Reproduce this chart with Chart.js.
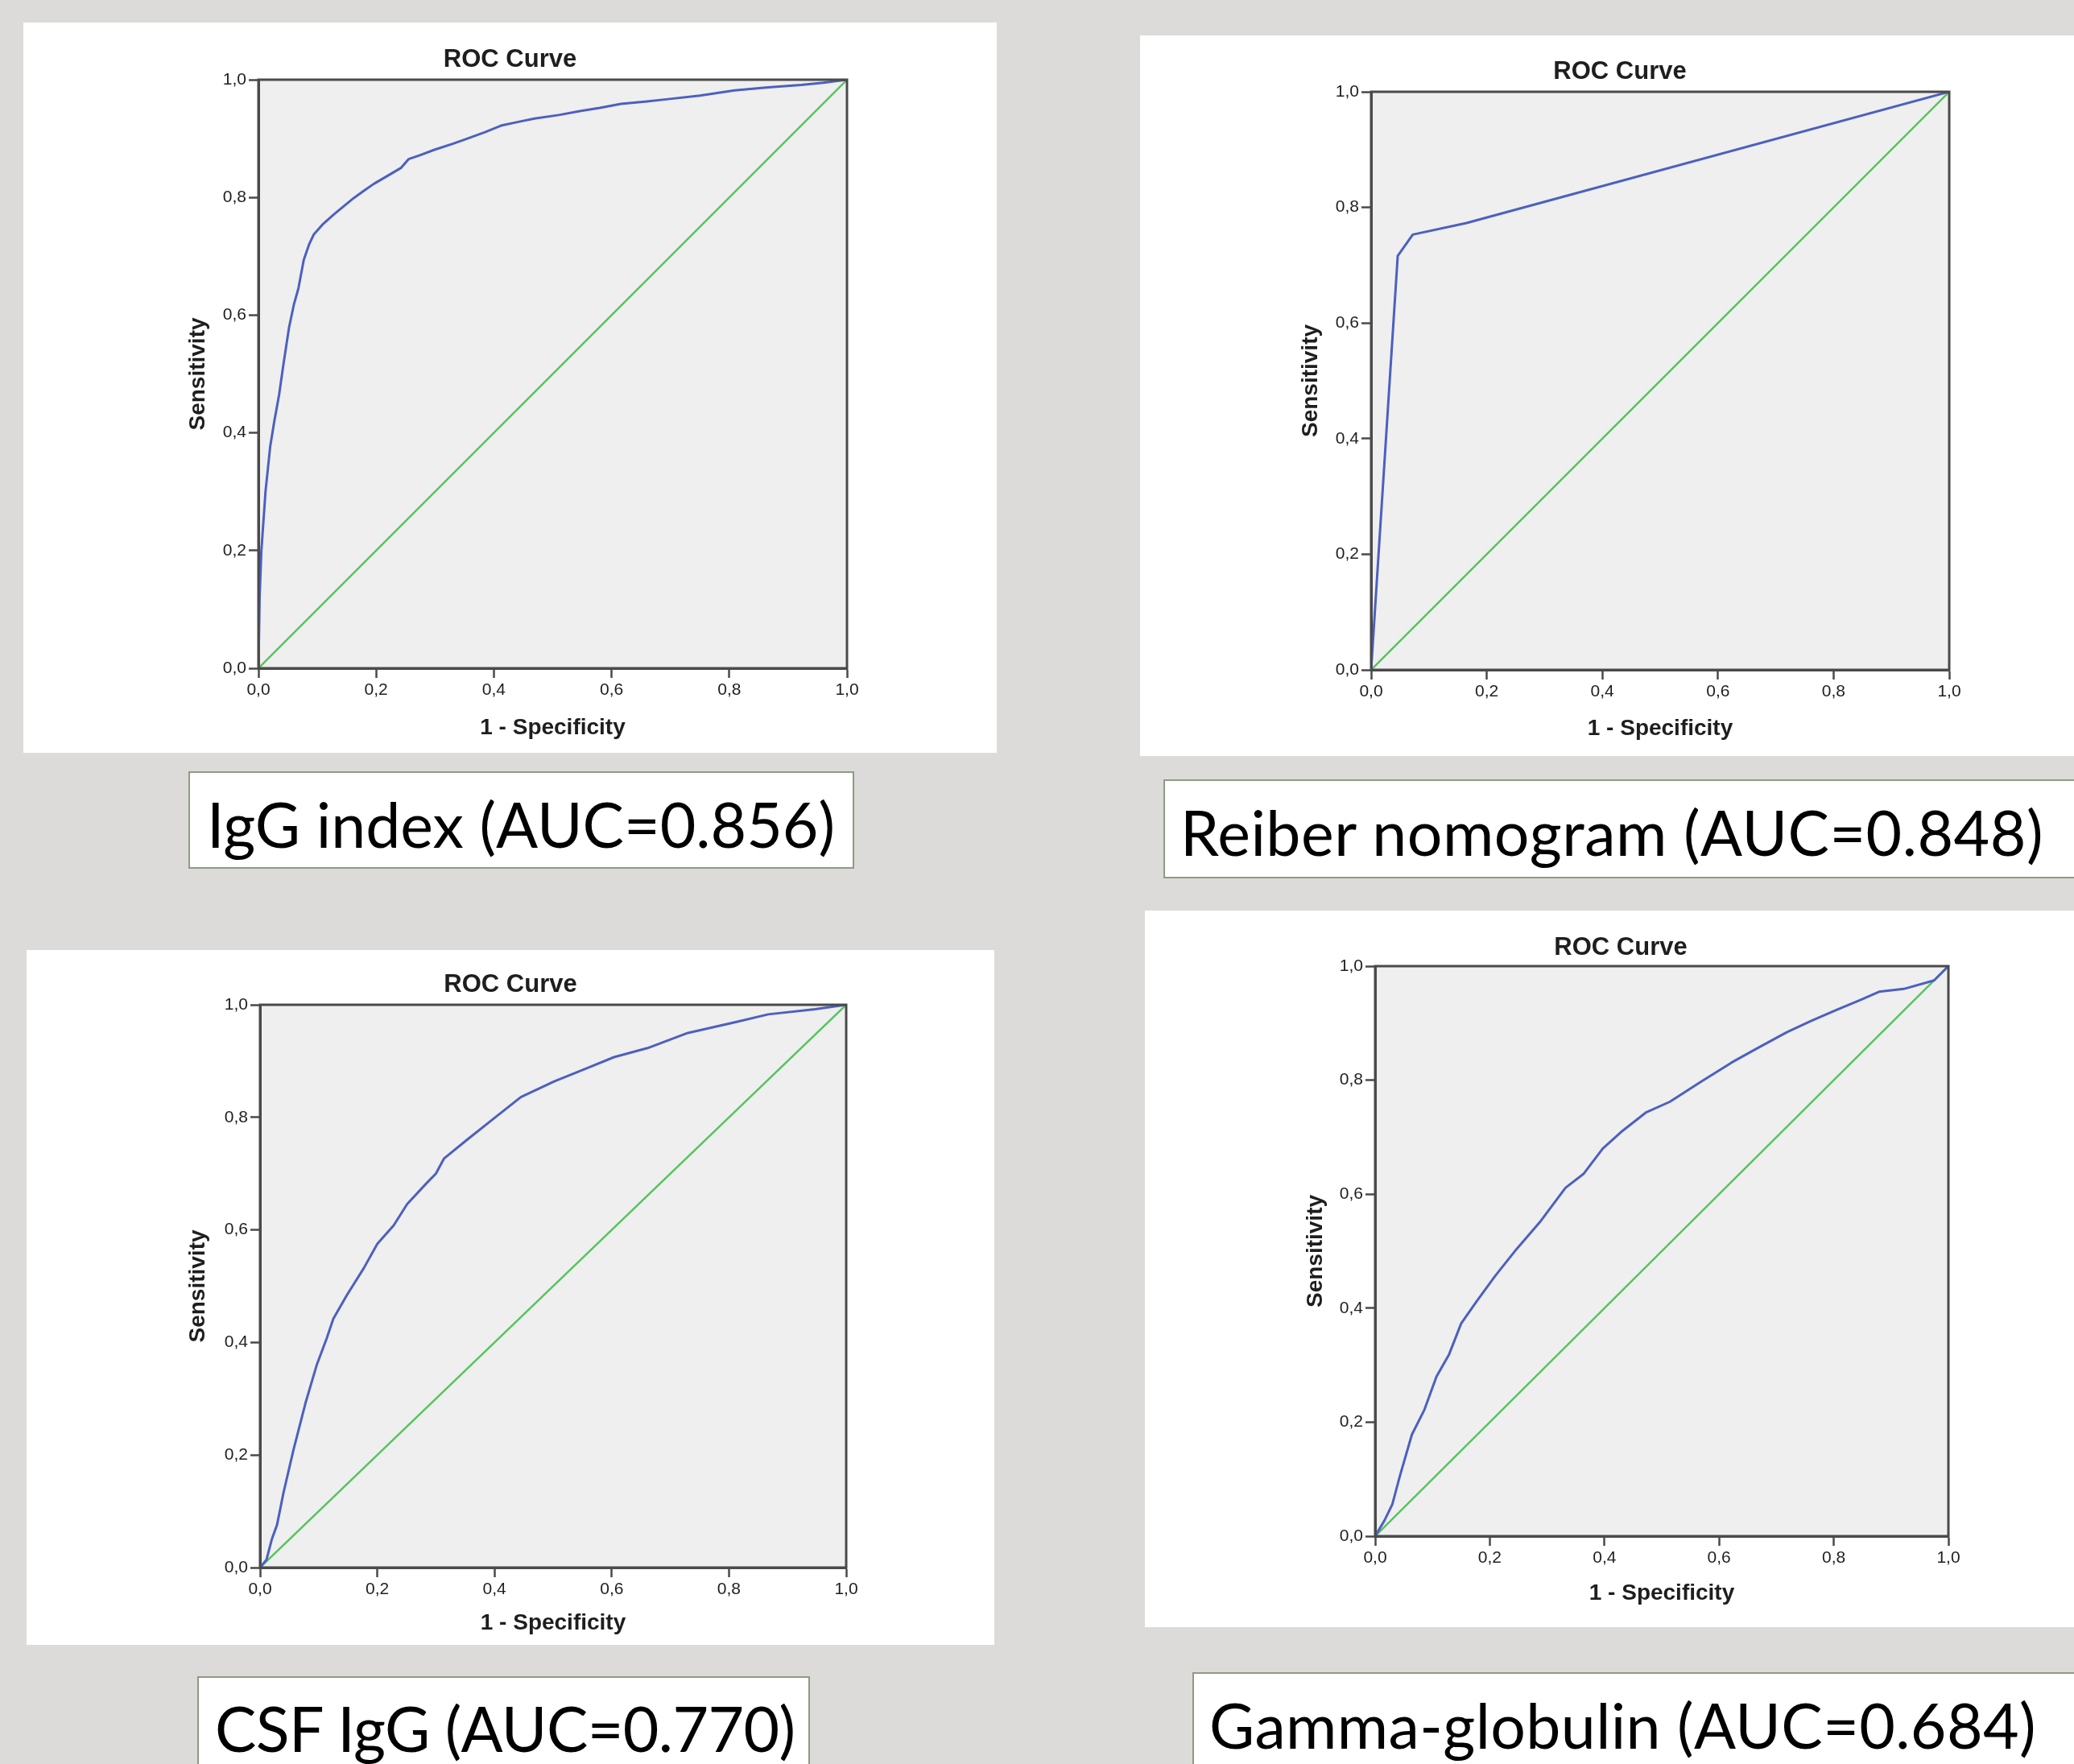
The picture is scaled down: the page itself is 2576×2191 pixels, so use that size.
<!DOCTYPE html>
<html>
<head>
<meta charset="utf-8">
<script src="https://cdn.jsdelivr.net/npm/chart.js@4.4.1/dist/chart.umd.min.js"></script>
<style>
  html, body { margin: 0; padding: 0; }
  body { width: 2576px; height: 2191px; background: #dcdbd9; position: relative; overflow: hidden; }
  .panel { position: absolute; background: #fff; }
  .panel canvas { display: block; }
  .label { position: absolute; background: #fff; border: 2px solid #8d9b7f; box-sizing: border-box; }
  .ltext { position: absolute; font-family: Lato, "Open Sans", sans-serif; font-size: 77px; line-height: 77px; color: #000; white-space: nowrap; }
</style>
</head>
<body>

<div class="label" style="left:234px;top:958px;width:827px;height:121px"></div>
<div class="ltext" style="left:257px;top:985px">IgG index (AUC=0.856)</div>

<div class="label" style="left:1445px;top:968px;width:1200px;height:123px"></div>
<div class="ltext" style="left:1466px;top:995px;letter-spacing:0.5px">Reiber nomogram (AUC=0.848)</div>

<div class="label" style="left:245px;top:2082px;width:761px;height:200px"></div>
<div class="ltext" style="left:267px;top:2108px;letter-spacing:-0.6px">CSF IgG (AUC=0.770)</div>

<div class="label" style="left:1481px;top:2077px;width:1200px;height:200px"></div>
<div class="ltext" style="left:1502px;top:2104px;letter-spacing:0.4px">Gamma-globulin (AUC=0.684)</div>

<script>
// ROC curve points (1 - specificity, sensitivity)
const iggIndexFpr = [0, 0.002, 0.005, 0.012, 0.02, 0.027, 0.035, 0.043, 0.052, 0.06, 0.068, 0.077, 0.086, 0.094, 0.11, 0.128, 0.145, 0.162, 0.18, 0.196, 0.22, 0.242, 0.255, 0.275, 0.299, 0.33, 0.355, 0.385, 0.412, 0.44, 0.469, 0.51, 0.548, 0.58, 0.616, 0.66, 0.696, 0.75, 0.809, 0.866, 0.922, 0.96, 1];
const iggIndexTpr = [0, 0.12, 0.2, 0.3, 0.377, 0.42, 0.464, 0.52, 0.579, 0.617, 0.646, 0.694, 0.72, 0.737, 0.755, 0.771, 0.785, 0.799, 0.812, 0.823, 0.837, 0.85, 0.865, 0.872, 0.881, 0.891, 0.9, 0.911, 0.922, 0.928, 0.934, 0.94, 0.947, 0.952, 0.959, 0.963, 0.967, 0.973, 0.982, 0.987, 0.991, 0.995, 1];

const reiberFpr = [0, 0.046, 0.072, 0.165, 1];
const reiberTpr = [0, 0.716, 0.753, 0.773, 1];

const csfIggFpr = [0, 0.011, 0.02, 0.029, 0.04, 0.057, 0.078, 0.097, 0.114, 0.125, 0.148, 0.177, 0.2, 0.228, 0.251, 0.285, 0.3, 0.314, 0.353, 0.399, 0.445, 0.502, 0.559, 0.604, 0.661, 0.73, 0.81, 0.867, 0.947, 1];
const csfIggTpr = [0, 0.014, 0.05, 0.076, 0.133, 0.209, 0.294, 0.361, 0.408, 0.442, 0.484, 0.532, 0.575, 0.608, 0.646, 0.684, 0.7, 0.727, 0.76, 0.798, 0.836, 0.864, 0.888, 0.907, 0.923, 0.95, 0.969, 0.983, 0.992, 1];

const gammaFpr = [0, 0.016, 0.03, 0.043, 0.064, 0.086, 0.107, 0.129, 0.15, 0.177, 0.209, 0.247, 0.289, 0.332, 0.364, 0.397, 0.429, 0.472, 0.514, 0.568, 0.622, 0.665, 0.718, 0.761, 0.804, 0.847, 0.879, 0.922, 0.975, 1];
const gammaTpr = [0, 0.027, 0.056, 0.105, 0.178, 0.222, 0.28, 0.319, 0.373, 0.412, 0.456, 0.504, 0.553, 0.611, 0.636, 0.68, 0.709, 0.743, 0.762, 0.797, 0.831, 0.855, 0.884, 0.904, 0.923, 0.941, 0.955, 0.96, 0.975, 1];

// reference diagonal
const refX = [0, 1];
const refY = [0, 1];

const tickLabels = ["0,0", "0,2", "0,4", "0,6", "0,8", "1,0"];

const BLUE = "#4c60c0";
const GREEN = "#55c45c";
const AXIS = "#4a4a4a";
const PLOT_BG = "#efefef";
const TEXT = "#1e1e1e";
const FONT = "'Liberation Sans', Arial, sans-serif";

// where each white panel and its plot box sit on the page
const layouts = [
    { left: 29,   top: 28,   w: 1209, h: 907, pl: 292, pt: 71, pr: 186, pb: 105, titleY: 46, yTitleX: 217, xTitleY: 876, fpr: iggIndexFpr, tpr: iggIndexTpr },
    { left: 1416, top: 44,   w: 1192, h: 895, pl: 287, pt: 70, pr: 187, pb: 107, titleY: 45, yTitleX: 212, xTitleY: 861, fpr: reiberFpr,   tpr: reiberTpr },
    { left: 33,   top: 1180, w: 1202, h: 863, pl: 290, pt: 68, pr: 184, pb: 96,  titleY: 43, yTitleX: 213, xTitleY: 836, fpr: csfIggFpr,   tpr: csfIggTpr },
    { left: 1422, top: 1131, w: 1182, h: 890, pl: 286, pt: 69, pr: 184, pb: 113, titleY: 46, yTitleX: 212, xTitleY: 848, fpr: gammaFpr,    tpr: gammaTpr }
];

// grey plot background and the closed frame round the plot
const plotFrame = {
    id: 'plotFrame',
    beforeDraw(chart) {
        const { ctx, chartArea: { left, top, width, height } } = chart;
        ctx.save();
        ctx.fillStyle = PLOT_BG;
        ctx.fillRect(left, top, width, height);
        ctx.restore();
    },
    afterDatasetsDraw(chart) {
        const { ctx, chartArea: { left, top, width, height } } = chart;
        ctx.save();
        ctx.strokeStyle = AXIS;
        ctx.lineWidth = 3;
        ctx.strokeRect(left, top, width, height);
        ctx.restore();
    }
};

function toPoints(xs, ys) {
    return xs.map((x, i) => ({ x: x, y: ys[i] }));
}

function axisOptions(p, horizontal) {
    return {
        type: 'linear',
        position: horizontal ? 'bottom' : 'left',
        min: 0,
        max: 1,
        ticks: {
            stepSize: 0.2,
            autoSkip: false,
            maxRotation: 0,
            padding: 3,
            color: TEXT,
            font: { family: FONT, size: 21, lineHeight: 1.2 },
            callback: (value, index) => tickLabels[index]
        },
        grid: { drawOnChartArea: false, drawTicks: true, tickLength: 12, tickColor: AXIS, tickWidth: 2.5 },
        border: { display: true, color: AXIS, width: 3 },
        title: {
            display: true,
            text: horizontal ? '1 - Specificity' : 'Sensitivity',
            color: TEXT,
            font: { family: FONT, size: 28, weight: 'bold', lineHeight: 1 },
            padding: horizontal ? { top: 0, bottom: p.h - p.xTitleY - 14 } : { top: p.yTitleX - 14, bottom: 0 }
        },
        afterFit: (scale) => {
            if (horizontal) scale.height = p.pb;
            else scale.width = p.pl;
        }
    };
}

function drawPanel(p) {
    let div = document.createElement("div");
    div.className = "panel";
    div.style.left = p.left + "px";
    div.style.top = p.top + "px";
    div.style.width = p.w + "px";
    div.style.height = p.h + "px";
    let canvas = document.createElement("canvas");
    canvas.width = p.w;
    canvas.height = p.h;
    div.append(canvas);
    document.body.append(div);

    const titleSize = 31;
    const titleTop = p.titleY - titleSize / 2;
    new Chart(canvas, {
        type: 'scatter',
        data: {
            datasets: [{
                data: toPoints(p.fpr, p.tpr),
                showLine: true,
                borderColor: BLUE,
                borderWidth: 3,
                borderJoinStyle: 'round',
                pointRadius: 0,
                tension: 0
            }, {
                data: toPoints(refX, refY),
                showLine: true,
                borderColor: GREEN,
                borderWidth: 2.4,
                pointRadius: 0
            }]
        },
        options: {
            responsive: false,
            animation: false,
            devicePixelRatio: 1,
            layout: { padding: 0 },
            plugins: {
                legend: { display: false },
                tooltip: { enabled: false },
                title: {
                    display: true,
                    text: 'ROC Curve',
                    color: TEXT,
                    font: { family: FONT, size: titleSize, weight: 'bold', lineHeight: 1 },
                    padding: { top: titleTop, bottom: p.pt - titleTop - titleSize }
                }
            },
            scales: {
                x: axisOptions(p, true),
                y: axisOptions(p, false),
                // empty right axis, only there to hold the space right of the plot
                yr: {
                    type: 'linear',
                    position: 'right',
                    min: 0,
                    max: 1,
                    ticks: { display: false },
                    grid: { display: false },
                    border: { display: false },
                    afterFit: (scale) => { scale.width = p.pr; }
                }
            }
        },
        plugins: [plotFrame]
    });
}

layouts.forEach(p => drawPanel(p));
</script>
</body>
</html>
